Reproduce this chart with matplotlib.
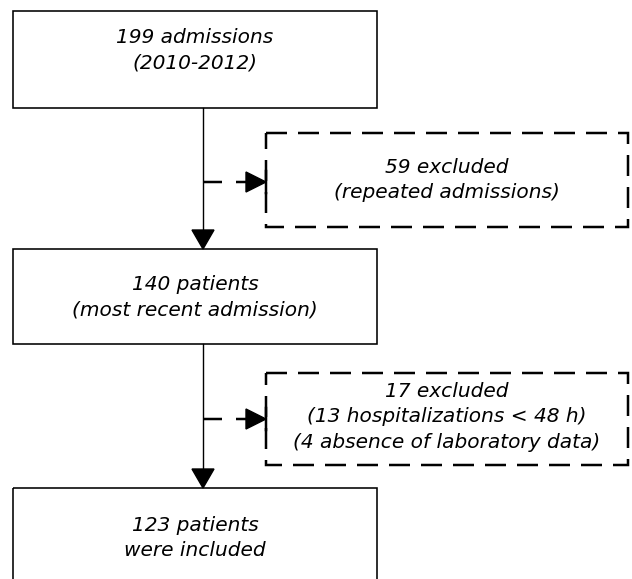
import matplotlib
matplotlib.use("Agg")
import matplotlib.pyplot as plt
import matplotlib.patches as mpatches

# flow counts
n_admissions = 199
years = "2010-2012"
n_repeated = 59
n_patients = 140
n_short_stay = 13
n_no_lab = 4
n_excluded2 = n_short_stay + n_no_lab
n_included = 123

main_texts = [
    f"{n_admissions} admissions\n({years})",
    f"{n_patients} patients\n(most recent admission)",
    f"{n_included} patients\nwere included",
]
side_texts = [
    f"{n_repeated} excluded\n(repeated admissions)",
    f"{n_excluded2} excluded\n({n_short_stay} hospitalizations < 48 h)\n"
    f"({n_no_lab} absence of laboratory data)",
]

W, H = 632, 579
PX = 0.72  # points per pixel at dpi=100
plt.rcParams["lines.scale_dashes"] = False

fig = plt.figure(figsize=(W / 100, H / 100), dpi=100)
ax = fig.add_axes([0, 0, 1, 1])
ax.set_xlim(0, W)
ax.set_ylim(H, 0)
ax.axis("off")

font = dict(family="DejaVu Sans", style="italic", fontsize=14.5,
            ha="center", va="center", linespacing=1.45)

# main boxes (left, top, right, bottom)
main_boxes = [(13, 11, 377, 108), (13, 249, 377, 344), (13, 488, 377, 600)]
main_text_y = [50, 297, 538]
for (x0, y0, x1, y1), txt, ty in zip(main_boxes, main_texts, main_text_y):
    ax.add_patch(mpatches.Rectangle((x0, y0), x1 - x0, y1 - y0, fill=False,
                                    edgecolor="black", lw=1.6 * PX))
    ax.text((x0 + x1) / 2, ty, txt, **font)

# dashed side boxes
side_boxes = [(266, 133, 628, 227), (266, 373, 628, 465)]
side_text_y = [180, 417]
arrow_y = [182, 419]
for (x0, y0, x1, y1), txt, ty in zip(side_boxes, side_texts, side_text_y):
    ax.add_patch(mpatches.Rectangle((x0, y0), x1 - x0, y1 - y0, fill=False,
                                    edgecolor="black", lw=2.5 * PX,
                                    linestyle=(0, (21 * PX, 11 * PX))))
    ax.text((x0 + x1) / 2, ty, txt, **font)

# vertical connectors with arrowheads
xc = 203
for (_, _, _, b_top), (_, n_top, _, _) in zip(main_boxes[:-1], main_boxes[1:]):
    ax.plot([xc, xc], [b_top, n_top - 15], color="black", lw=1.4 * PX)
    ax.add_patch(mpatches.Polygon([(xc - 11, n_top - 19), (xc + 11, n_top - 19),
                                   (xc, n_top)], closed=True, color="black"))

# dashed horizontal arrows to exclusion boxes
for (x0, _, _, _), ay in zip(side_boxes, arrow_y):
    ax.plot([xc, x0 - 14], [ay, ay], color="black", lw=2.5 * PX,
            linestyle=(0, (19 * PX, 14 * PX)))
    ax.add_patch(mpatches.Polygon([(x0 - 20, ay - 10), (x0 - 20, ay + 10),
                                   (x0, ay)], closed=True, color="black"))
    ax.plot([x0, x0], [ay - 11, ay + 11], color="black", lw=2.5 * PX)

fig.savefig("out.png", dpi=100, facecolor="white")
